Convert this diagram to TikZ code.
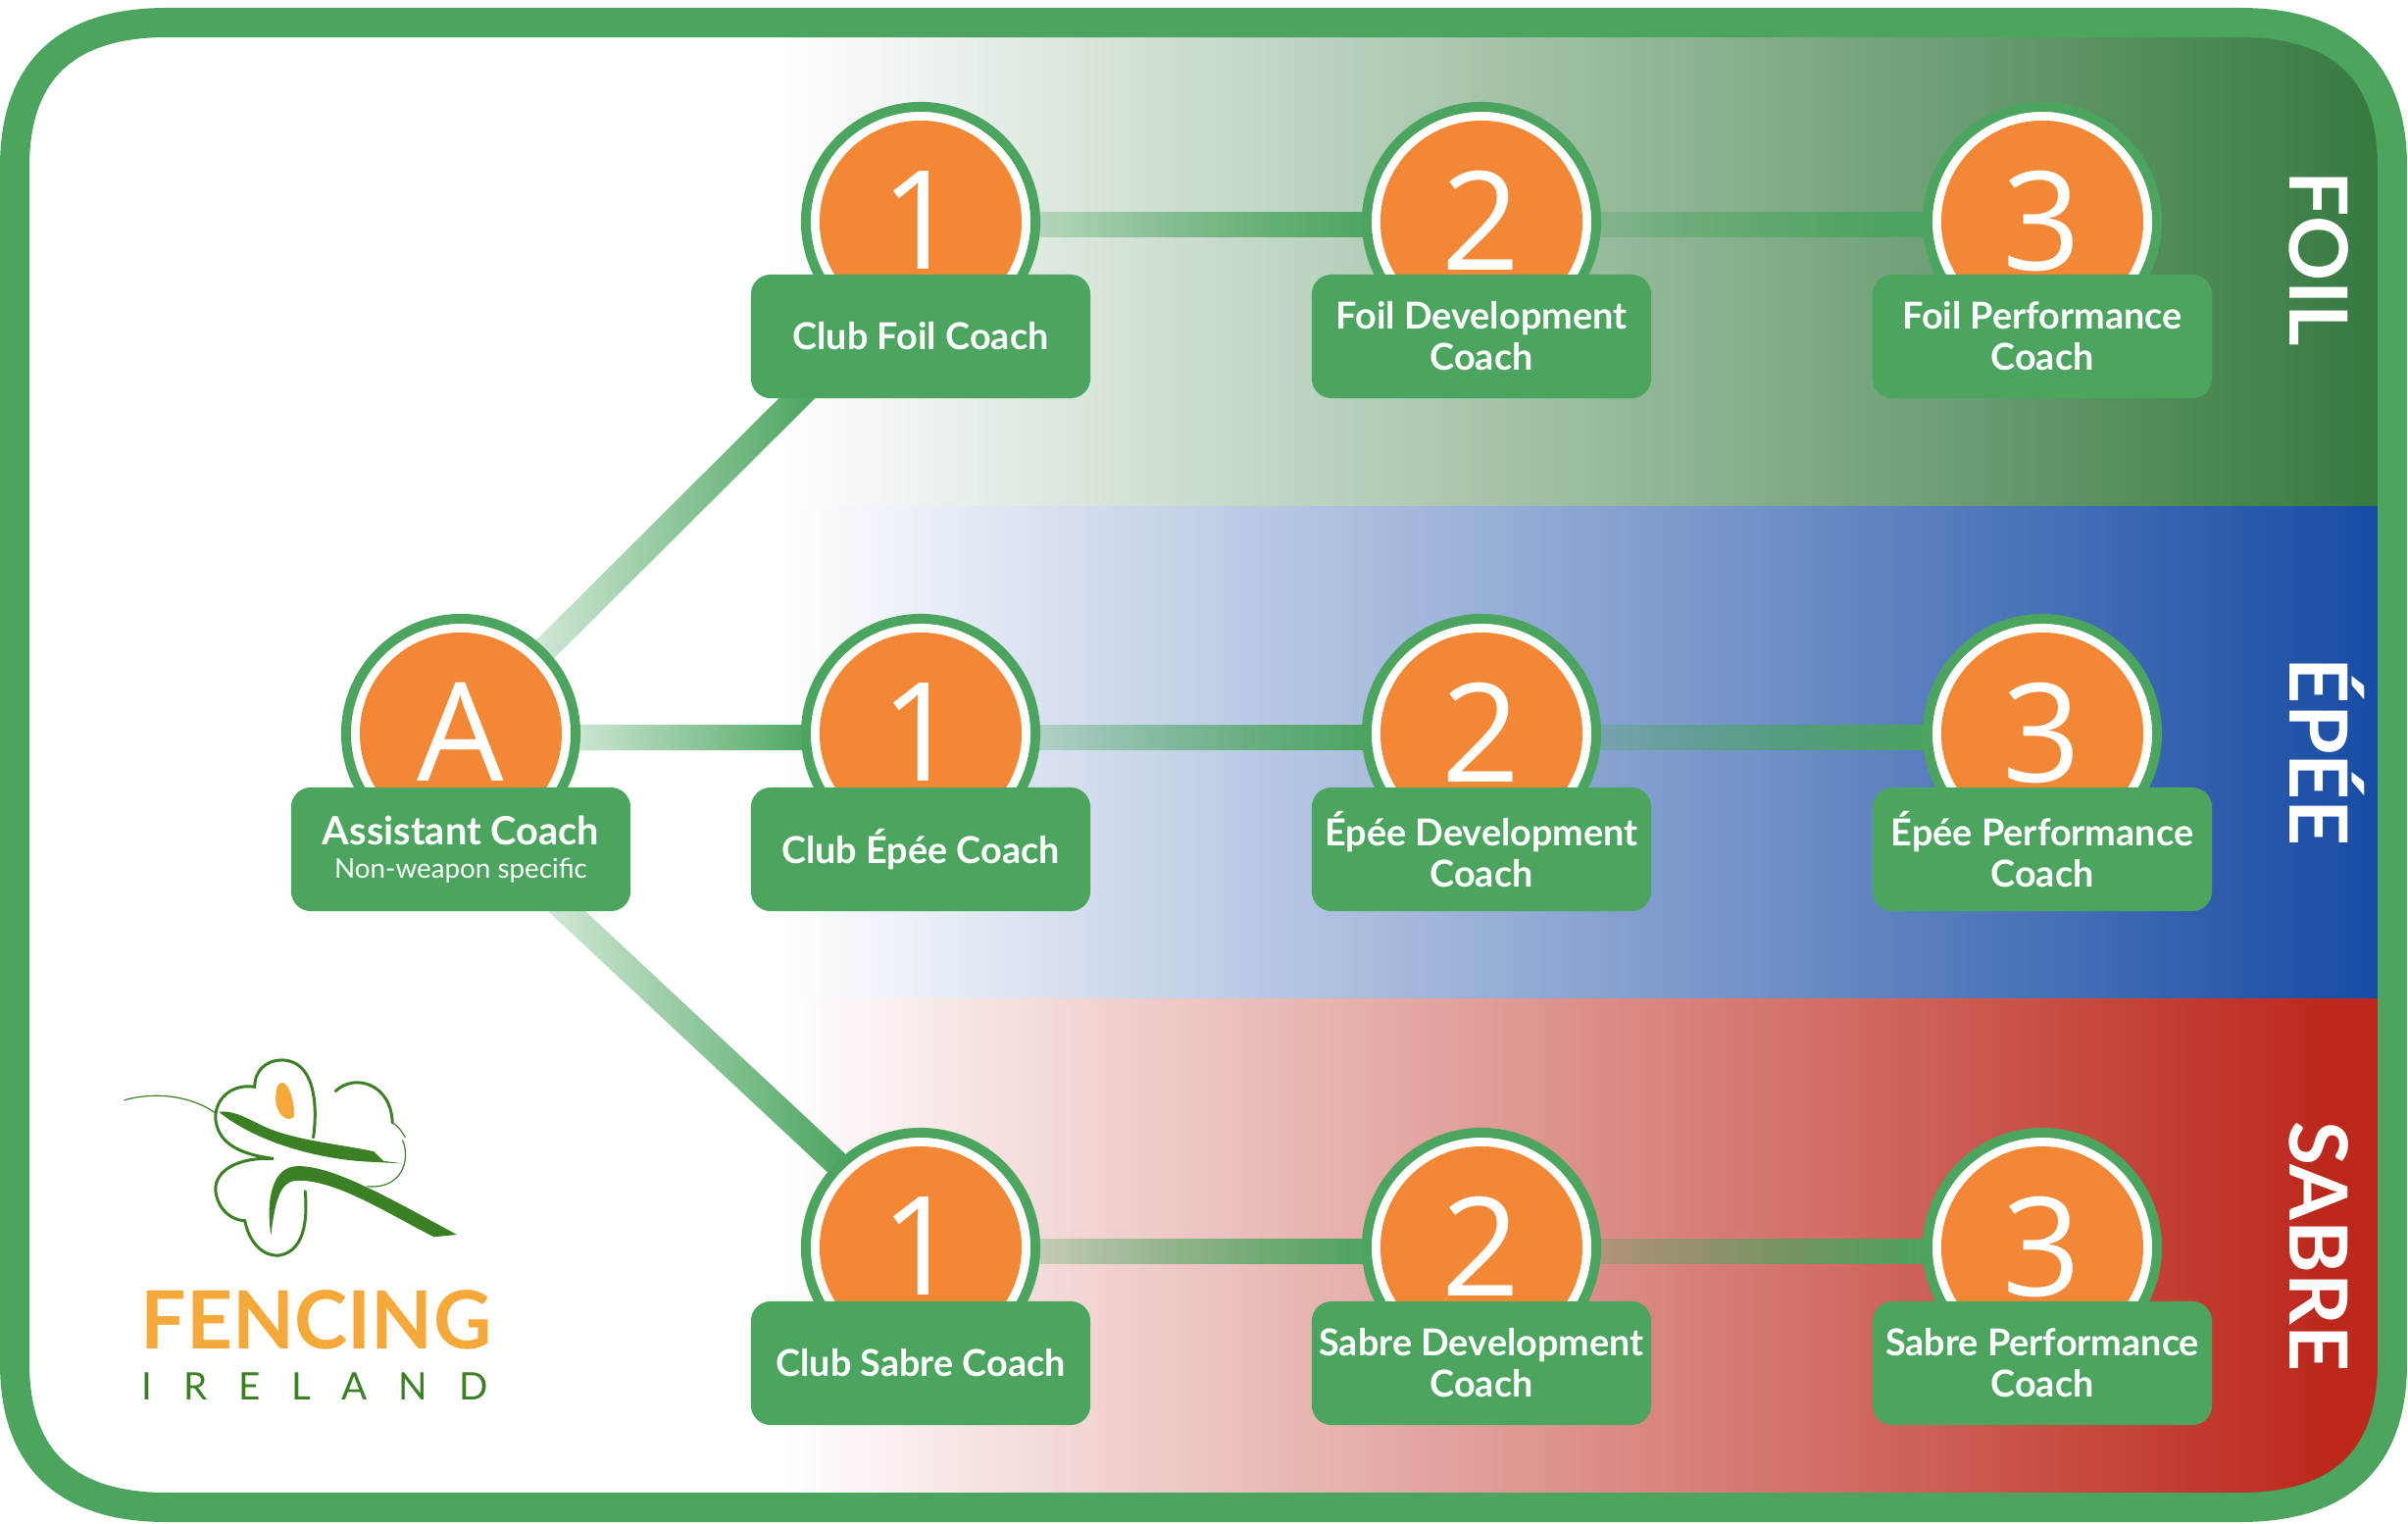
\documentclass[tikz,border=0pt]{standalone}
\usepackage{fontspec}
\setmainfont{Lato}
\newfontfamily\badgefont{Open Sans}
\usepackage{tikz}
\usetikzlibrary{calc,fadings}
\definecolor{ringgreen}{HTML}{4BA55F}
\definecolor{badgeorange}{HTML}{F28835}
\definecolor{foilmid}{HTML}{9BC6A7}
\definecolor{foildark}{HTML}{367A40}
\definecolor{epeemid}{HTML}{9AB3DB}
\definecolor{epeedark}{HTML}{174BA4}
\definecolor{sabremid}{HTML}{DD8E8C}
\definecolor{sabredark}{HTML}{BC281C}
\definecolor{logogreen}{HTML}{3C8026}
\definecolor{logoorange}{HTML}{F5A93B}
\tikzfading[name=connfade,left color=transparent!75,right color=transparent!0]
\tikzset{
coachcircle/.style={circle,draw=ringgreen,line width=.1cm,fill=white,minimum size=2.34cm,inner sep=0pt,text=white,
  font=\badgefont\fontsize{39.8}{40}\selectfont,
  path picture={\fill[badgeorange] (path picture bounding box.center) circle (1.03cm);}},
coachbox/.style={rectangle,rounded corners=.2cm,fill=ringgreen,minimum width=3.46cm,minimum height=1.26cm,inner sep=0pt,
  text=white,align=center,font=\fontsize{10.75}{11.95}\selectfont\bfseries},
connector/.style={ringgreen,line width=.26cm,path fading=connfade,shorten <=-.03cm,shorten >=-.03cm},
weaponlabel/.style={rotate=-90,anchor=base,text=white,font=\fontsize{23.3}{24}\selectfont\bfseries}
}
\newcommand{\framepath}{(170,23) -- (2285,23) .. controls (2385,23) and (2440,70) .. (2440,170)
 -- (2440,1390) .. controls (2440,1490) and (2385,1537) .. (2285,1537)
 -- (170,1537) .. controls (70,1537) and (15,1490) .. (15,1390)
 -- (15,170) .. controls (15,70) and (70,23) .. (170,23) -- cycle}
\begin{document}
\begin{tikzpicture}[x=.01cm,y=-.01cm]
\useasboundingbox (0,0) rectangle (2456,1554);
% bands
\begin{scope}
\clip \framepath;
\shade[left color=white,middle color=foilmid,right color=foildark] (795,20) rectangle (2425,516);
\shade[left color=white,middle color=epeemid,right color=epeedark] (795,516) rectangle (2425,1018);
\shade[left color=white,middle color=sabremid,right color=sabredark] (795,1018) rectangle (2370,1540);
\fill[sabredark] (2369,1018) rectangle (2445,1540);
\end{scope}
\draw[ringgreen,line width=.3cm] \framepath;
% circles
\node[coachcircle] (A) at (470,748) {\raisebox{.03cm}{A}};
\node[coachcircle] (f1) at (939,226) {\raisebox{.03cm}{1}};
\node[coachcircle] (f2) at (1511,226) {\raisebox{.03cm}{2}};
\node[coachcircle] (f3) at (2083,226) {\raisebox{.03cm}{3}};
\node[coachcircle] (e1) at (939,748) {\raisebox{.03cm}{1}};
\node[coachcircle] (e2) at (1511,748) {\raisebox{.03cm}{2}};
\node[coachcircle] (e3) at (2083,748) {\raisebox{.03cm}{3}};
\node[coachcircle] (s1) at (939,1272) {\raisebox{.03cm}{1}};
\node[coachcircle] (s2) at (1511,1272) {\raisebox{.03cm}{2}};
\node[coachcircle] (s3) at (2083,1272) {\raisebox{.03cm}{3}};
% boxes
\node[coachbox] (Abox) at (470,866) {\fontsize{11.3}{11.95}\selectfont\raisebox{-.03cm}{Assistant Coach}\\[-.05cm]{\fontsize{7.9}{9}\selectfont\mdseries Non-weapon specific}};
\node[coachbox] (f1box) at (939,343) {Club Foil Coach};
\node[coachbox] (f2box) at (1511,343) {Foil Development\\Coach};
\node[coachbox] (f3box) at (2083,343) {Foil Performance\\Coach};
\node[coachbox] (e1box) at (939,866) {Club Épée Coach};
\node[coachbox] (e2box) at (1511,866) {Épée Development\\Coach};
\node[coachbox] (e3box) at (2083,866) {Épée Performance\\Coach};
\node[coachbox] (s1box) at (939,1390) {Club Sabre Coach};
\node[coachbox] (s2box) at (1511,1390) {Sabre Development\\Coach};
\node[coachbox] (s3box) at (2083,1390) {Sabre Performance\\Coach};
% connectors
\draw[connector] (A.45) -- ($(f1box.south west)+(55,-8)$);
\draw[connector] ($(A.east)+(0,4)$) -- ($(e1.west)+(0,4)$);
\draw[connector] ($(Abox.south)+(100,-8)$) -- (s1.135);
\draw[connector] ($(f1.east)+(0,3)$) -- ($(f2.west)+(0,3)$);
\draw[connector] ($(f2.east)+(0,3)$) -- ($(f3.west)+(0,3)$);
\draw[connector] ($(e1.east)+(0,4)$) -- ($(e2.west)+(0,4)$);
\draw[connector] ($(e2.east)+(0,4)$) -- ($(e3.west)+(0,4)$);
\draw[connector] ($(s1.east)+(0,4)$) -- ($(s2.west)+(0,4)$);
\draw[connector] ($(s2.east)+(0,4)$) -- ($(s3.west)+(0,4)$);
% weapon labels
\node[weaponlabel] (foil) at (2335,264) {FOIL};
\node[weaponlabel] (epee) at (2335,767) {ÉPÉE};
\node[weaponlabel] (sabre) at (2335,1271) {SABRE};
% logo
\begin{scope}[shift={(80,1040)},x=.00333cm,y=-.00333cm]
\draw[logogreen,line width=.03cm,line cap=round] (720,360) .. controls (735,250) and (720,125) .. (625,123)
 .. controls (570,123) and (540,160) .. (540,205) .. controls (470,195) and (420,240) .. (420,300)
 .. controls (425,370) and (480,410) .. (598,425) .. controls (490,420) and (420,460) .. (420,520)
 .. controls (425,580) and (470,615) .. (510,615) .. controls (525,690) and (570,722) .. (610,722)
 .. controls (680,715) and (705,640) .. (695,525);
\draw[logogreen,line width=.03cm,line cap=round] (788,218) .. controls (850,160) and (960,200) .. (962,315);
\draw[logogreen,line width=.012cm] (962,315) .. controls (980,325) and (990,340) .. (1002,360);
\draw[logogreen,line width=.012cm] (993,368) .. controls (1020,430) and (990,520) .. (885,510);
\draw[logogreen,line width=.012cm] (140,246) .. controls (230,220) and (340,230) .. (420,285);
\fill[logogreen] (430,282) .. controls (470,275) and (510,298) .. (560,322) .. controls (650,368) and (800,380) .. (905,403)
 -- (935,432) -- (995,440) -- (900,435) .. controls (760,430) and (560,385) .. (430,282) -- cycle;
\fill[logogreen] (590,660) .. controls (575,560) and (590,450) .. (670,448) .. controls (780,445) and (960,550) .. (1160,658)
 -- (1090,665) .. controls (960,600) and (800,495) .. (680,492) .. controls (625,490) and (605,530) .. (590,660) -- cycle;
\fill[logoorange] (625,192) .. controls (650,195) and (665,270) .. (660,298) .. controls (640,315) and (600,290) .. (605,230)
 .. controls (607,205) and (612,192) .. (625,192) -- cycle;
\end{scope}
\node[anchor=base west,inner sep=0pt,text=logoorange,font=\fontsize{23.3}{24}\selectfont\bfseries] (fencing) at (143,1375) {FENCING};
\node[anchor=base west,inner sep=0pt,text=logogreen,font=\fontsize{11}{12}\selectfont\addfontfeature{LetterSpace=82}] (ireland) at (144,1427) {IRELAND};
\end{tikzpicture}
\end{document}
